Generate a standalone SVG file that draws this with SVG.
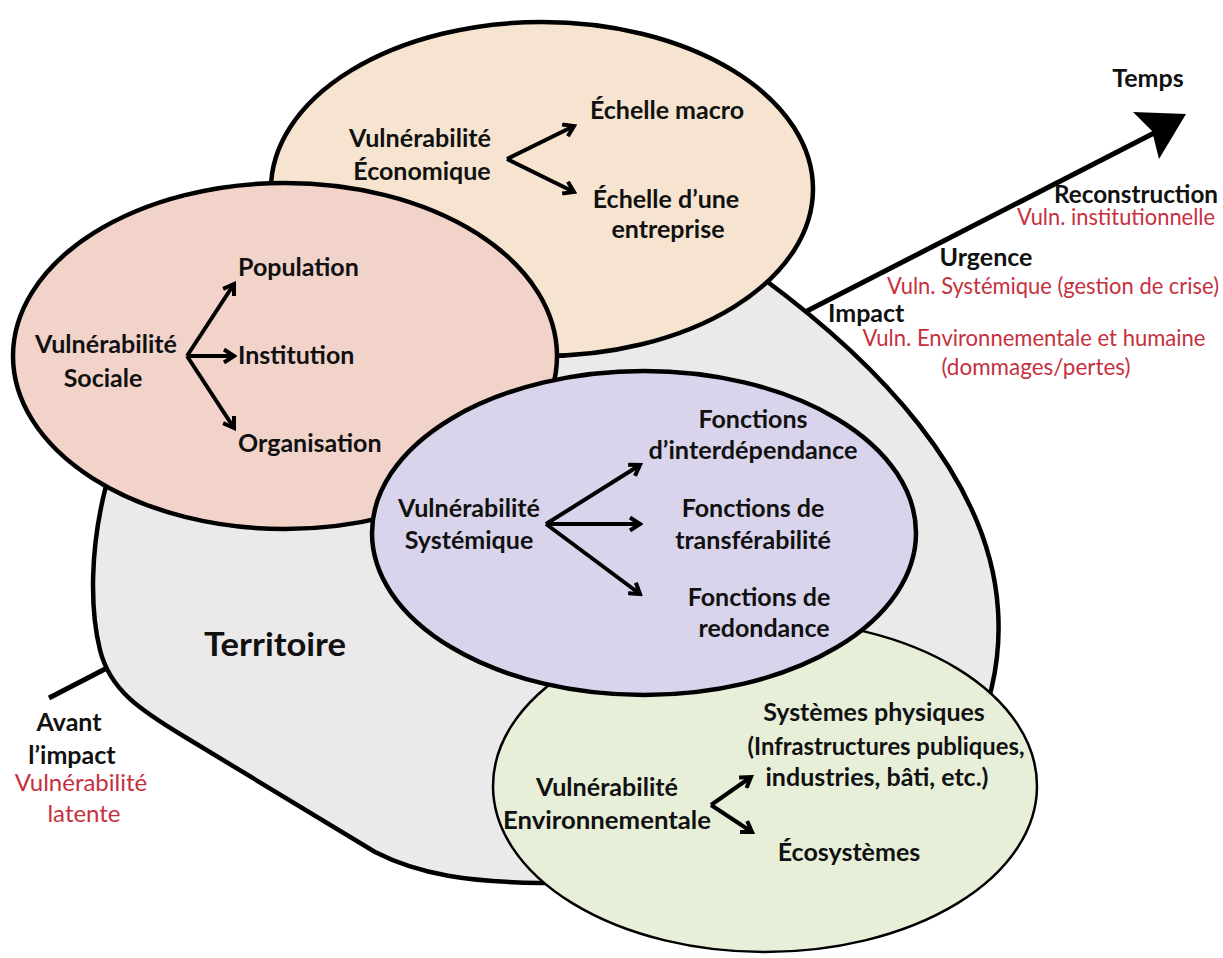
<svg xmlns="http://www.w3.org/2000/svg" width="1223" height="958" viewBox="0 0 1223 958">
<style>
  .b{font-family:Lato,"Open Sans",sans-serif;font-weight:bold;font-size:25px;fill:#111}
  .r{font-family:Lato,"Open Sans",sans-serif;font-size:23px;fill:#c6303e}
  .m{text-anchor:middle}
  .e{text-anchor:end}
  .ell{stroke:#000;stroke-width:4.5}
  .arr{fill:none;stroke:#000;stroke-width:4;marker-end:url(#chev)}
</style>
<defs>
  <marker id="chev" markerUnits="userSpaceOnUse" viewBox="0 0 16 16" markerWidth="16" markerHeight="16" refX="13" refY="8" orient="auto">
    <path d="M3,1.5 L13,8 L3,14.5" fill="none" stroke="#000" stroke-width="4"/>
  </marker>
</defs>
<rect width="1223" height="958" fill="#fff"/>

<g id="territoire">
  <path d="M740,262 C880,360 990,480 998,610 C1004,701 960,800 880,850 C820,880 700,884 540,883 C470,882 420,875 375,852 L185,737 C140,710 110,690 100,650 C90,610 90,550 105,490 C120,400 200,300 400,240 C520,205 660,215 740,262 Z" fill="#ebe9ea" stroke="#000" stroke-width="4.5"/>
  <text class="b m" x="275" y="656" style="font-size:33px" textLength="142" lengthAdjust="spacingAndGlyphs">Territoire</text>
</g>

<g id="connectors">
  <line x1="807" y1="311" x2="1160" y2="130" stroke="#000" stroke-width="5"/>
  <polygon points="1186,114 1133,112 1152,131 1159,159" fill="#000"/>
  <line x1="107" y1="668" x2="49" y2="698" stroke="#000" stroke-width="5"/>
</g>

<g id="temps">
  <text class="b m" x="1148" y="87">Temps</text>
  <text class="b e" x="1218" y="203" textLength="164" lengthAdjust="spacingAndGlyphs">Reconstruction</text>
  <text class="r e" x="1215" y="225" textLength="198" lengthAdjust="spacingAndGlyphs">Vuln. institutionnelle</text>
  <text class="b m" x="986" y="266">Urgence</text>
  <text class="r m" x="1053" y="294" textLength="332" lengthAdjust="spacingAndGlyphs">Vuln. Systémique (gestion de crise)</text>
  <text class="b" x="828" y="322">Impact</text>
  <text class="r m" x="1034" y="346" textLength="343" lengthAdjust="spacingAndGlyphs">Vuln. Environnementale et humaine</text>
  <text class="r m" x="1036" y="375" textLength="189" lengthAdjust="spacingAndGlyphs">(dommages/pertes)</text>
</g>

<g id="avant">
  <text class="b m" x="69" y="731">Avant</text>
  <text class="b m" x="72" y="764">l’impact</text>
  <text class="r m" x="81" y="791" style="font-size:24px">Vulnérabilité</text>
  <text class="r m" x="84" y="822" style="font-size:24px">latente</text>
</g>

<g id="economique">
  <ellipse class="ell" cx="542" cy="189" rx="271" ry="167" fill="#f6e4d0"/>
  <text class="b m" x="420" y="147" textLength="142" lengthAdjust="spacingAndGlyphs">Vulnérabilité</text>
  <text class="b m" x="422" y="180">Économique</text>
  <path class="arr" d="M507,159 L574,126"/>
  <path class="arr" d="M507,159 L574,192"/>
  <text class="b m" x="667" y="119">Échelle macro</text>
  <text class="b m" x="666" y="208">Échelle d’une</text>
  <text class="b m" x="668" y="238">entreprise</text>
</g>

<g id="sociale">
  <ellipse class="ell" cx="285" cy="356" rx="272" ry="173" fill="#f2d3c9"/>
  <text class="b m" x="106" y="353" textLength="142" lengthAdjust="spacingAndGlyphs">Vulnérabilité</text>
  <text class="b m" x="103" y="387">Sociale</text>
  <path class="arr" d="M187,356 L234,284"/>
  <path class="arr" d="M187,356 L234,356"/>
  <path class="arr" d="M187,356 L234,428"/>
  <text class="b" x="238" y="276">Population</text>
  <text class="b" x="238" y="364">Institution</text>
  <text class="b" x="238" y="452">Organisation</text>
</g>

<g id="environnementale">
  <ellipse cx="765" cy="786" rx="272" ry="166" fill="#e8efd9" stroke="#000" stroke-width="2.5"/>
  <text class="b m" x="607" y="796" textLength="142" lengthAdjust="spacingAndGlyphs">Vulnérabilité</text>
  <text class="b m" x="607" y="829" textLength="208" lengthAdjust="spacingAndGlyphs">Environnementale</text>
  <path class="arr" d="M711,805 L751,777"/>
  <path class="arr" d="M711,805 L752,832"/>
  <text class="b m" x="874" y="721">Systèmes physiques</text>
  <text class="b m" x="886" y="755" textLength="277" lengthAdjust="spacingAndGlyphs">(Infrastructures publiques,</text>
  <text class="b m" x="877" y="786">industries, bâti, etc.)</text>
  <text class="b m" x="849" y="861">Écosystèmes</text>
</g>

<g id="systemique">
  <ellipse class="ell" cx="644" cy="533" rx="272" ry="162" fill="#d9d4ec"/>
  <text class="b m" x="469" y="517" textLength="142" lengthAdjust="spacingAndGlyphs">Vulnérabilité</text>
  <text class="b m" x="469" y="549">Systémique</text>
  <path class="arr" d="M546,524 L640,465"/>
  <path class="arr" d="M546,524 L640,524"/>
  <path class="arr" d="M546,524 L640,594"/>
  <text class="b m" x="753" y="428">Fonctions</text>
  <text class="b m" x="753" y="459" textLength="209" lengthAdjust="spacingAndGlyphs">d’interdépendance</text>
  <text class="b m" x="753" y="517">Fonctions de</text>
  <text class="b m" x="753" y="549">transférabilité</text>
  <text class="b m" x="759" y="606">Fonctions de</text>
  <text class="b m" x="764" y="637">redondance</text>
</g>
</svg>
